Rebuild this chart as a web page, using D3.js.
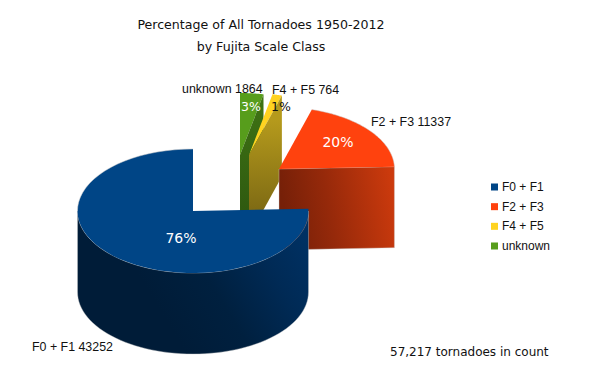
<!DOCTYPE html>
<html>
<head>
<meta charset="utf-8">
<script src="https://cdn.jsdelivr.net/npm/d3@7"></script>
<style>
body { margin: 0; background: #fff; }
svg { display: block; }
.title, .note, .pct { font-family: "DejaVu Sans", sans-serif; }
.lab { font-family: "Liberation Sans", sans-serif; font-size: 12px; fill: #111; }
</style>
</head>
<body>
<svg width="591" height="375"></svg>
<script>
var classes = ["F0 + F1", "F2 + F3", "F4 + F5", "unknown"];
var counts = [43252, 11337, 764, 1864];
var percents = ["76%", "20%", "1%", "3%"];
var colors = ["#004586", "#ff420e", "#ffd320", "#579d1c"];
var titleLines = ["Percentage of All Tornadoes 1950-2012", "by Fujita Scale Class"];
var note = "57,217 tornadoes in count";

var svg = d3.select("svg");
var rx = 115.5, ry = 62, depth = 81;

// ellipse scales, the pie is tilted so y is squashed
var xs = d3.scaleLinear().domain([-1, 1]).range([-rx, rx]);
var ys = d3.scaleLinear().domain([-1, 1]).range([ry, -ry]);

// pie runs counter clockwise from north
var slices = d3.pie().sort(null).startAngle(0).endAngle(-2 * Math.PI)(counts);

var centers = [[193, 211], [279, 169], [249, 155], [240, 155]];

function pt(c, a, dy) {
    return [c[0] + xs(Math.sin(a)), c[1] + ys(Math.cos(a)) + (dy || 0)];
}

function arcPts(c, a0, a1, dy) {
    return d3.range(0, 61).map(function(i) {
        return pt(c, a0 + (a1 - a0) * i / 60, dy);
    });
}

var line = d3.line();

function topFace(d, i) {
    var c = centers[i];
    return line([c].concat(arcPts(c, d.startAngle, d.endAngle))) + "Z";
}

// flat cut face along one radius
function cutFace(c, a) {
    var p = pt(c, a);
    return line([c, p, [p[0], p[1] + depth], [c[0], c[1] + depth]]) + "Z";
}

// outer wall between two angles
function wall(c, a0, a1) {
    return line(arcPts(c, a0, a1).concat(arcPts(c, a1, a0, depth))) + "Z";
}

var defs = svg.append("defs");
function grad(id, x1, y1, x2, y2, stops) {
    var g = defs.append("linearGradient").attr("id", id)
        .attr("gradientUnits", "userSpaceOnUse")
        .attr("x1", x1).attr("y1", y1).attr("x2", x2).attr("y2", y2);
    stops.forEach(function(s) {
        g.append("stop").attr("offset", s[0]).attr("stop-color", s[1]);
    });
}
grad("blueSide", 160, 310, 300, 225, [[0, "#001c38"], [0.35, "#00203f"], [0.7, "#002a55"], [1, "#003163"]]);
grad("redSide", 285, 215, 395, 195, [[0, "#762008"], [0.4, "#96290a"], [1, "#cc3a0d"]]);
grad("oliveSide", 262, 120, 262, 210, [[0, "#b59a1c"], [1, "#7f6b14"]]);
grad("greenSide", 250, 100, 250, 210, [[0, "#3f7314"], [1, "#2f5a10"]]);

var edge = "#c9c9c9";

function outline(c, a0, a1) {
    svg.append("path").attr("d", line(arcPts(c, a0, a1)))
        .attr("fill", "none").attr("stroke", edge).attr("stroke-width", 0.5);
}

// green and yellow first, blue goes over everything
var green = slices[3], yellow = slices[2], red = slices[1], blue = slices[0];

svg.append("path").attr("d", topFace(green, 3)).attr("fill", colors[3]);
svg.append("path").attr("d", cutFace(centers[3], green.startAngle)).attr("fill", "url(#greenSide)");
svg.append("path").attr("d", topFace(yellow, 2)).attr("fill", colors[2]);
svg.append("path").attr("d", cutFace(centers[2], yellow.startAngle)).attr("fill", "url(#oliveSide)");

svg.append("path").attr("d", cutFace(centers[1], red.startAngle)).attr("fill", "url(#redSide)").attr("stroke", edge).attr("stroke-width", 0.4);
svg.append("path").attr("d", topFace(red, 1)).attr("fill", colors[1]);
outline(centers[1], red.startAngle, red.endAngle);

svg.append("path").attr("d", wall(centers[0], -Math.PI / 2, -1.5 * Math.PI)).attr("fill", "url(#blueSide)").attr("stroke", edge).attr("stroke-width", 0.4);
svg.append("path").attr("d", topFace(blue, 0)).attr("fill", colors[0]);
outline(centers[0], 0, -Math.PI / 2);

// title
svg.selectAll("text.title").data(titleLines).enter().append("text")
    .attr("class", "title")
    .attr("x", 261)
    .attr("y", function(d, i) { return 29 + i * 22; })
    .attr("text-anchor", "middle")
    .attr("font-size", 12.6)
    .attr("fill", "#111")
    .text(function(d) { return d; });

// percent labels on the slices
var pctPos = [[181, 243], [338, 147], [271, 111], [251, 111]];
svg.selectAll("text.pct").data(percents).enter().append("text")
    .attr("class", "pct")
    .attr("x", function(d, i) { return pctPos[i][0]; })
    .attr("y", function(d, i) { return pctPos[i][1]; })
    .attr("text-anchor", function(d, i) { return i == 2 ? "start" : "middle"; })
    .attr("font-size", function(d, i) { return i > 1 ? 12.5 : 14; })
    .attr("fill", function(d, i) { return i == 2 ? "#111" : "#fff"; })
    .text(function(d) { return d; });

// count labels
var labPos = [[32, 351], [371, 126], [272, 94], [182, 93]];
svg.selectAll("text.lab").data(classes).enter().append("text")
    .attr("class", "lab")
    .attr("x", function(d, i) { return labPos[i][0]; })
    .attr("y", function(d, i) { return labPos[i][1]; })
    .attr("font-size", 12.4)
    .style("font-size", "12.4px")
    .text(function(d, i) { return d + " " + counts[i]; });

// legend
var legendY = d3.scalePoint().domain(classes).range([187, 246]);
var legend = svg.selectAll("g.legend").data(classes).enter().append("g")
    .attr("class", "legend")
    .attr("transform", function(d) { return "translate(491," + legendY(d) + ")"; });
legend.append("rect")
    .attr("x", 0).attr("y", -3.5).attr("width", 7).attr("height", 7)
    .attr("fill", function(d, i) { return colors[i]; });
legend.append("text")
    .attr("class", "lab")
    .attr("x", 11).attr("y", 4)
    .text(function(d) { return d; });

svg.append("text")
    .attr("class", "note")
    .attr("x", 390).attr("y", 356)
    .attr("font-size", 12)
    .attr("fill", "#111")
    .text(note);
</script>
</body>
</html>
